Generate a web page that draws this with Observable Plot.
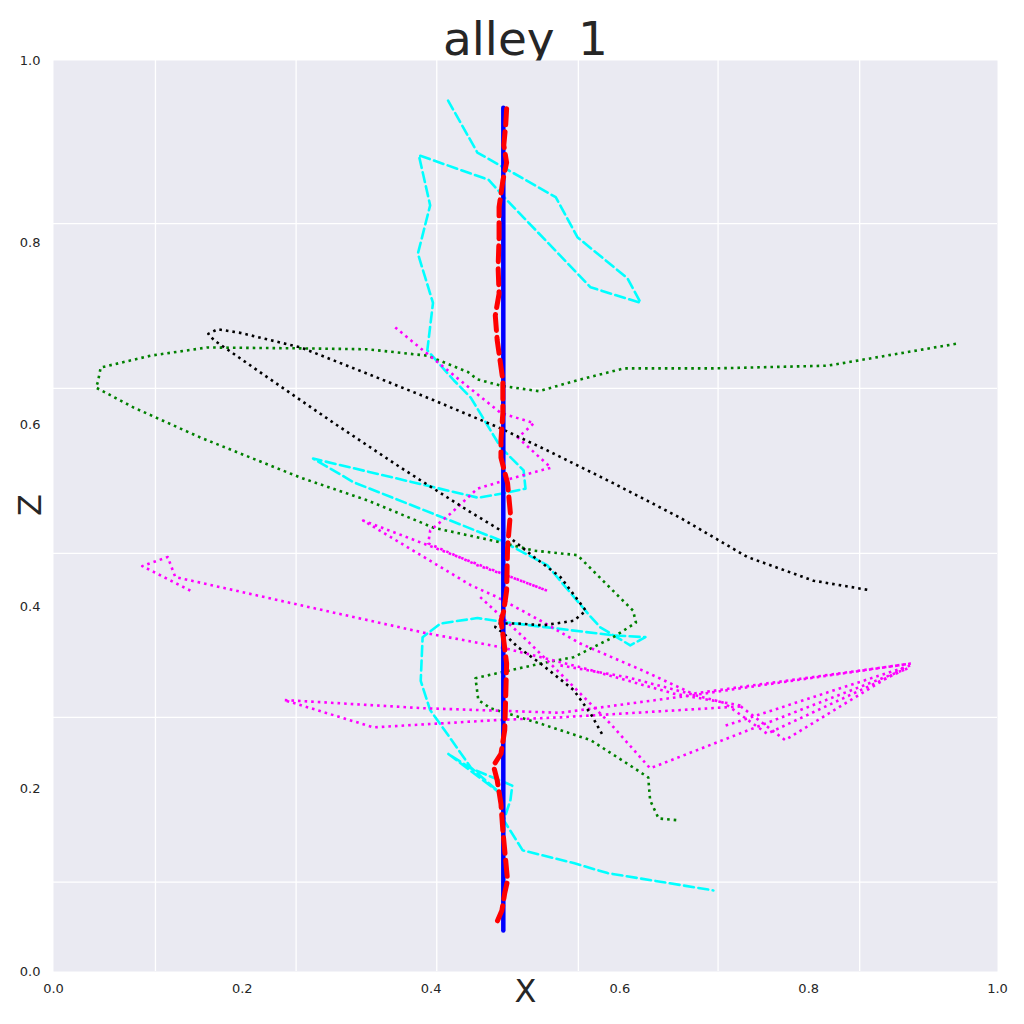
<!DOCTYPE html>
<html>
<head>
<meta charset="utf-8">
<script src="https://cdn.jsdelivr.net/npm/d3@7"></script>
<script src="https://cdn.jsdelivr.net/npm/@observablehq/plot@0.6"></script>
<style>
  body { margin: 0; background: #fff; }
  svg { display: block; }
</style>
</head>
<body>
<div id="chart"></div>
<script>
// ---- text ----
const titleText = "alley_1";
const xLabel = "X";
const zLabel = "Z";

// ---- ticks & grid ----
const xTicks = [0, 0.2, 0.4, 0.6, 0.8, 1.0];
const zTicks = [0, 0.2, 0.4, 0.6, 0.8, 1.0];
const gridX = [0.108, 0.257, 0.406, 0.556, 0.704, 0.854];
const gridZ = [0.098, 0.279, 0.459, 0.640, 0.821];

// ---- series (x, z) ----
const bluePath = [[0.4765, 0.045], [0.4765, 0.948]];

const redPath = [
  [0.480,0.947],[0.479,0.929],[0.477,0.907],[0.480,0.888],[0.476,0.868],[0.472,0.839],
  [0.472,0.806],[0.471,0.773],[0.472,0.744],[0.468,0.720],[0.470,0.693],[0.476,0.649],
  [0.476,0.613],[0.474,0.583],[0.474,0.564],[0.481,0.536],[0.484,0.503],[0.481,0.465],
  [0.480,0.418],[0.477,0.396],[0.474,0.385],[0.477,0.363],[0.480,0.338],[0.479,0.301],
  [0.478,0.265],[0.474,0.239],[0.466,0.226],[0.470,0.210],[0.474,0.184],[0.476,0.155],
  [0.479,0.122],[0.481,0.100],[0.478,0.086],[0.475,0.067],[0.468,0.050]
];

const cyanPath = [
  [0.418,0.956],[0.449,0.899],[0.532,0.850],[0.555,0.806],[0.608,0.761],[0.622,0.734],
  [0.569,0.751],[0.481,0.846],[0.461,0.869],[0.387,0.896],[0.399,0.841],[0.386,0.788],
  [0.402,0.734],[0.396,0.682],[0.424,0.649],[0.442,0.630],[0.474,0.575],[0.498,0.550],
  [0.500,0.530],[0.477,0.525],[0.450,0.520],[0.275,0.563],[0.318,0.537],[0.474,0.473],
  [0.523,0.446],[0.566,0.393],[0.579,0.378],[0.611,0.358],[0.627,0.367],[0.593,0.369],
  [0.481,0.383],[0.449,0.388],[0.410,0.382],[0.391,0.367],[0.389,0.319],[0.399,0.287],
  [0.417,0.261],[0.442,0.224],[0.474,0.195],[0.418,0.239],[0.442,0.223],[0.477,0.208],
  [0.486,0.204],[0.484,0.188],[0.477,0.166],[0.497,0.133],[0.551,0.119],[0.587,0.108],
  [0.699,0.089]
];

const blackPath = [
  [0.862,0.419],[0.805,0.429],[0.735,0.455],[0.664,0.498],[0.593,0.536],[0.523,0.572],
  [0.474,0.596],[0.403,0.627],[0.333,0.656],[0.262,0.685],[0.198,0.701],[0.174,0.705],
  [0.164,0.700],[0.170,0.693],[0.227,0.652],[0.297,0.602],[0.368,0.553],[0.439,0.506],
  [0.474,0.484],[0.509,0.455],[0.537,0.433],[0.564,0.396],[0.551,0.385],[0.519,0.380],
  [0.492,0.382],[0.470,0.382],[0.468,0.378],[0.477,0.371],[0.492,0.356],[0.516,0.338],
  [0.551,0.309],[0.569,0.283],[0.583,0.257]
];

const greenPath = [
  [0.956,0.689],[0.820,0.665],[0.699,0.662],[0.604,0.662],[0.555,0.649],[0.514,0.637],
  [0.474,0.643],[0.449,0.650],[0.439,0.658],[0.396,0.676],[0.333,0.683],[0.262,0.684],
  [0.163,0.685],[0.103,0.676],[0.050,0.663],[0.047,0.647],[0.045,0.641],[0.085,0.619],
  [0.156,0.586],[0.262,0.542],[0.333,0.517],[0.403,0.487],[0.474,0.471],[0.509,0.462],
  [0.555,0.457],[0.614,0.396],[0.617,0.383],[0.593,0.367],[0.551,0.345],[0.516,0.338],
  [0.481,0.330],[0.447,0.322],[0.450,0.298],[0.463,0.289],[0.516,0.272],[0.569,0.254],
  [0.614,0.224],[0.630,0.213],[0.632,0.188],[0.641,0.168],[0.661,0.166]
];

const magentaA = [
  [0.362,0.707],[0.396,0.678],[0.433,0.647],[0.474,0.613],[0.509,0.602],[0.492,0.586],
  [0.527,0.553],[0.484,0.541],[0.449,0.530],[0.421,0.503],[0.399,0.484],[0.397,0.470],
  [0.449,0.446],[0.495,0.429],[0.523,0.418],[0.328,0.495],[0.410,0.444],[0.442,0.424],
  [0.470,0.411],[0.516,0.385],[0.558,0.360],[0.625,0.330],[0.677,0.305],[0.908,0.338]
];
const magentaB = [
  [0.452,0.411],[0.502,0.363],[0.537,0.327],[0.590,0.272],[0.632,0.223],[0.908,0.334]
];
const magentaC = [
  [0.537,0.336],[0.608,0.323],[0.710,0.295],[0.756,0.261],[0.905,0.333]
];
const magentaD = [[0.712,0.270],[0.908,0.336]];
const magentaE = [[0.728,0.291],[0.775,0.254],[0.903,0.335]];
const magentaF = [
  [0.908,0.338],[0.682,0.304],[0.537,0.284],[0.392,0.289],[0.244,0.298],[0.339,0.268],
  [0.470,0.276],[0.537,0.279],[0.728,0.291]
];
const magentaG = [
  [0.145,0.418],[0.094,0.445],[0.121,0.455],[0.129,0.433],[0.262,0.402],[0.392,0.372],
  [0.474,0.356],[0.558,0.334],[0.657,0.305],[0.728,0.292]
];

const rows = (path, id) => path.map(([x, z]) => ({x, z, id}));
const magentaRows = [
  ...rows(magentaA, "a"), ...rows(magentaB, "b"), ...rows(magentaC, "c"),
  ...rows(magentaD, "d"), ...rows(magentaE, "e"), ...rows(magentaF, "f"), ...rows(magentaG, "g")
];

const dotted = {strokeWidth: 2.6, strokeDasharray: "2.6,4", strokeLinecap: "butt", strokeLinejoin: "round"};

const chart = Plot.plot({
  width: 1024,
  height: 1024,
  marginTop: 60,
  marginBottom: 53,
  marginLeft: 53,
  marginRight: 27,
  style: {fontFamily: "DejaVu Sans", fontSize: "13px", color: "#262626", background: "white"},
  x: {domain: [0, 1], ticks: xTicks, tickSize: 0, tickPadding: 12, tickFormat: d3.format(".1f"), label: null},
  y: {domain: [0, 1], ticks: zTicks, tickSize: 0, tickPadding: 13, tickFormat: d3.format(".1f"), label: null},
  marks: [
    Plot.text([titleText], {text: d => d, frameAnchor: "top", lineAnchor: "bottom", dy: -6, fontSize: 47, fill: "#262626"}),
    Plot.frame({fill: "#EAEAF2", stroke: "none"}),
    Plot.ruleX(gridX, {stroke: "white", strokeWidth: 1.3}),
    Plot.ruleY(gridZ, {stroke: "white", strokeWidth: 1.3}),
    Plot.text([xLabel], {text: d => d, frameAnchor: "bottom", lineAnchor: "middle", dy: 20, fontSize: 32, fill: "#262626"}),
    Plot.text([zLabel], {text: d => d, frameAnchor: "left", lineAnchor: "middle", rotate: -90, dx: -23, fontSize: 32, fill: "#262626"}),
    Plot.line(rows(cyanPath, "c"), {x: "x", y: "z", stroke: "cyan", strokeWidth: 2.6, strokeDasharray: "10,4.5"}),
    Plot.line(rows(greenPath, "g"), {x: "x", y: "z", stroke: "green", ...dotted}),
    Plot.line(magentaRows, {x: "x", y: "z", z: "id", stroke: "magenta", ...dotted}),
    Plot.line(rows(blackPath, "k"), {x: "x", y: "z", stroke: "black", ...dotted}),
    Plot.line(rows(bluePath, "b"), {x: "x", y: "z", stroke: "blue", strokeWidth: 4.5, strokeLinecap: "round"}),
    Plot.line(rows(redPath, "r"), {x: "x", y: "z", stroke: "red", strokeWidth: 5, strokeDasharray: "16,7"})
  ]
});
document.getElementById("chart").appendChild(chart);
</script>
</body>
</html>
